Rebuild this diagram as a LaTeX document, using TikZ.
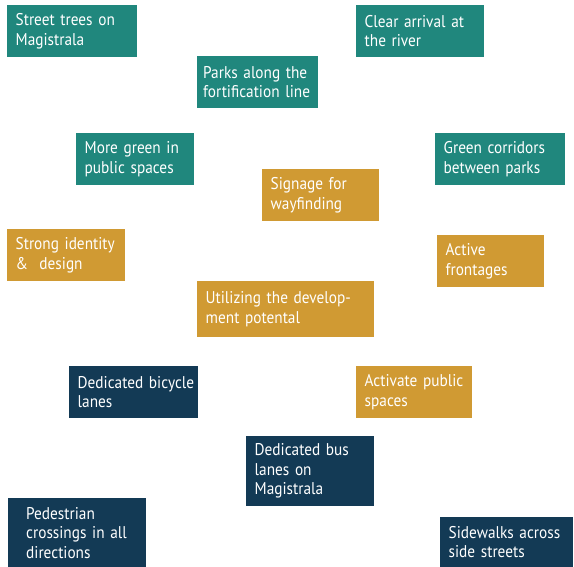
\documentclass[tikz,border=0pt]{standalone}
\usepackage{fontspec}
\setmainfont{PT Sans}[FakeStretch=0.9, WordSpace=0.7]
\definecolor{greenbox}{HTML}{20877D}
\definecolor{goldbox}{HTML}{D09A33}
\definecolor{navybox}{HTML}{133A55}
\begin{document}
\hyphenpenalty=10000
\begin{tikzpicture}[x=1pt, y=-1pt,
	goal/.style={anchor=north west, text=white, align=left, inner xsep=8.5pt, inner ysep=0pt,
		minimum height=52pt, font=\fontsize{17}{19.5}\selectfont},
	green/.style={goal, fill=greenbox},
	gold/.style={goal, fill=goldbox},
	navy/.style={goal, fill=navybox}]
	\useasboundingbox (0, 0) rectangle (574, 567);
	% green space
	\node[green, text width=113pt] (trees) at (7, 5) {Street trees on\\Magistrala};
	\node[green, text width=111pt] (river) at (356, 5) {Clear arrival at\\the river};
	\node[green, text width=109pt, inner xsep=6pt] (parks) at (197, 56) {Parks along~the\\fortification~line};
	\node[green, text width=101pt] (green) at (76, 133) {More green in\\public spaces};
	\node[green, text width=113pt] (corridors) at (435, 133) {Green corridors\\between parks};
	% identity and use
	\node[gold, text width=100pt] (signage) at (262, 169) {Signage for\\wayfinding};
	\node[gold, text width=101pt] (identity) at (7, 229) {Strong identity\\\&\ \ design};
	\node[gold, text width=90pt] (frontages) at (437, 235) {Active\\frontages};
	\node[gold, text width=160pt, minimum height=56pt] (develop) at (197, 281) {Utilizing the develop-\\ment potental};
	\node[gold, text width=99pt] (activate) at (356, 366) {Activate~public\\spaces};
	% mobility
	\node[navy, text width=112pt] (bicycle) at (69, 366) {Dedicated~bicycle\\lanes};
	\node[navy, text width=111pt, minimum height=70pt] (bus) at (246, 436) {Dedicated bus\\lanes on\\Magistrala};
	\node[navy, text width=102pt, inner xsep=18pt, minimum height=69pt] (crossings) at (8, 498) {Pedestrian\\crossings~in~all\\directions};
	\node[navy, text width=116pt, minimum height=50pt] (sidewalks) at (440, 517) {Sidewalks~across\\side streets};
\end{tikzpicture}
\end{document}
